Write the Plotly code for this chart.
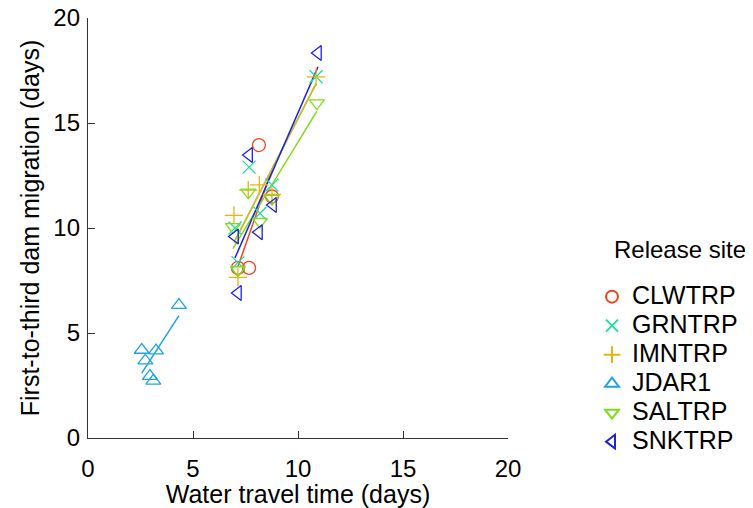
import numpy as np
import plotly.graph_objects as go

sites = ["CLWTRP", "GRNTRP", "IMNTRP", "JDAR1", "SALTRP", "SNKTRP"]
colors = ["#EE4422", "#22DDA0", "#E8B410", "#1EA2E6", "#7EDC1A", "#1E22E0"]
symbols = ["circle-open", "x-thin-open", "cross-thin-open", "triangle-up-open",
           "triangle-down-open", "triangle-left-open"]

clwtrp_x = [7.14, 7.67, 8.14, 8.76]
clwtrp_y = [8.1, 8.1, 13.95, 11.5]
grntrp_x = [7.0, 7.14, 7.67, 8.19, 8.76, 10.86]
grntrp_y = [10.0, 8.35, 12.9, 10.7, 12.05, 17.2]
imntrp_x = [6.95, 7.14, 7.63, 8.16, 8.76, 10.86]
imntrp_y = [10.6, 7.65, 11.8, 12.05, 11.6, 17.2]
jdar1_x = [2.56, 3.24, 2.73, 2.95, 3.11, 4.33]
jdar1_y = [4.19, 4.16, 3.68, 2.95, 2.72, 6.33]
saltrp_x = [6.9, 7.14, 7.63, 8.19, 8.76, 10.9]
saltrp_y = [10.05, 8.0, 11.7, 10.3, 11.4, 15.95]
snktrp_x = [7.0, 7.14, 7.67, 8.14, 8.81, 10.95]
snktrp_y = [9.6, 6.9, 13.48, 9.8, 11.1, 18.33]

xs = [clwtrp_x, grntrp_x, imntrp_x, jdar1_x, saltrp_x, snktrp_x]
ys = [clwtrp_y, grntrp_y, imntrp_y, jdar1_y, saltrp_y, snktrp_y]

FONT = "Liberation Sans, Arial, sans-serif"

fig = go.Figure()
for name, c, s, x, y in zip(sites, colors, symbols, xs, ys):
    x = np.array(x); y = np.array(y)
    b, a = np.polyfit(x, y, 1)
    lx = np.array([x.min(), x.max()])
    fig.add_trace(go.Scatter(x=lx, y=a + b * lx, mode="lines",
                             line=dict(color=c, width=1.5),
                             showlegend=False, legendgroup=name, hoverinfo="skip"))
for name, c, s, x, y in zip(sites, colors, symbols, xs, ys):
    fig.add_trace(go.Scatter(x=x, y=y, mode="markers",
                             name=f"<span style='font-size:25px'>{name}</span>",
                             legendgroup=name,
                             marker=dict(symbol=s, size=13, color=c,
                                         line=dict(color=c, width=1.3))))

axis_common = dict(range=[0, 20], tickvals=[0, 5, 10, 15, 20], ticks="inside",
                   ticklen=7, tickcolor="#333333", tickwidth=1.3,
                   showline=True, linecolor="#333333", linewidth=1.3,
                   showgrid=False, zeroline=False, automargin=False,
                   ticklabeloverflow="allow",
                   tickfont=dict(family=FONT, size=24, color="black"),
                   title_font=dict(family=FONT, size=25, color="black"))

fig.update_layout(
    width=745, height=500,
    margin=dict(l=80, r=245, t=10, b=70, autoexpand=False),
    plot_bgcolor="white", paper_bgcolor="white",
    xaxis=dict(**axis_common, ticklabelstandoff=9,
               title=dict(text="Water travel time (days)", standoff=4)),
    yaxis=dict(**axis_common, ticklabelstandoff=2,
               title=dict(text="First-to-third dam migration (days)", standoff=6)),
    legend=dict(font=dict(family=FONT, size=20, color="black"),
                x=1.2, xanchor="left", y=0.383, yanchor="top",
                tracegroupgap=0, itemsizing="constant"),
    annotations=[dict(text="Release site", x=1.247, y=0.448, xref="paper", yref="paper",
                      xanchor="left", yanchor="middle", showarrow=False,
                      font=dict(family=FONT, size=24, color="black"))],
    showlegend=True,
)

fig.write_html("out.html")
